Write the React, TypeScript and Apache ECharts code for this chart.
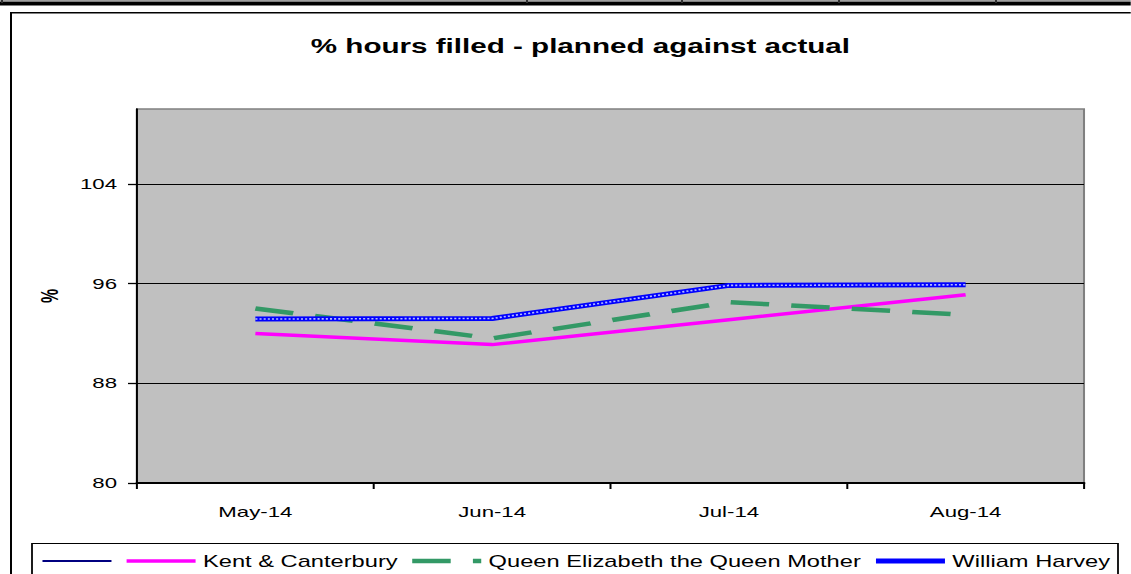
import React, { useEffect, useRef } from 'react';
import * as echarts from 'echarts';

// The reference text is horizontally stretched; the chart is drawn narrower and stretched with CSS.
const S = 1.48;
const W = 1131 / S;
const H = 574;
const FONT = "'Liberation Sans', Arial, sans-serif";

const categories = ['May-14', 'Jun-14', 'Jul-14', 'Aug-14'];
const blankValues: (number | null)[] = [null, null, null, null];
const kentValues = [92.0, 91.1, 93.1, 95.1];
const qeqmValues = [94.0, 91.6, 94.5, 93.5];
const harveyValues = [93.15, 93.2, 95.85, 95.9];
const yTickValues = [80, 88, 96, 104];
const seriesNames = [' ', 'Kent & Canterbury', 'Queen Elizabeth the Queen Mother', 'William Harvey'];
const titleText = '% hours filled - planned against actual';

const sx = (x: number) => x / S;

function buildOption(): any {
  const legendCommon = {
    top: 553,
    itemWidth: sx(69),
    itemHeight: 14,
    padding: 0,
    selectedMode: false,
    textStyle: { fontSize: 16, color: '#000', fontFamily: FONT },
    lineStyle: { width: 'inherit' },
    itemStyle: { opacity: 0, borderWidth: 0 },
  };
  const dividerXs = [2, 527, 682, 839, 996];
  return {
    animation: false,
    backgroundColor: '#ffffff',
    title: {
      text: titleText,
      left: 210,
      top: 36,
      padding: 0,
      textStyle: { fontSize: 20, fontWeight: 'bold', color: '#000', fontFamily: FONT },
    },
    legend: [
      { ...legendCommon, data: [seriesNames[0]], left: sx(41), itemGap: 0 },
      { ...legendCommon, data: seriesNames.slice(1), left: sx(124), itemGap: 7.5 },
    ],
    grid: {
      left: sx(137),
      right: W - sx(1084),
      top: 109,
      bottom: H - 483,
      show: true,
      backgroundColor: '#C0C0C0',
      borderColor: '#808080',
      borderWidth: 1.4,
      containLabel: false,
      outerBoundsMode: 'none',
    },
    xAxis: {
      type: 'category',
      data: categories,
      boundaryGap: true,
      axisLine: { show: true, lineStyle: { color: '#000', width: 2 } },
      axisTick: { show: true, inside: false, length: 6, lineStyle: { color: '#000', width: 1.35 } },
      axisLabel: { color: '#000', fontSize: 15, margin: 21, fontFamily: FONT },
      splitLine: { show: false },
    },
    yAxis: {
      type: 'value',
      min: 80,
      max: 110,
      interval: 8,
      name: '%',
      nameLocation: 'middle',
      nameGap: 51,
      nameRotate: 90,
      nameTextStyle: { fontSize: 16, fontWeight: 'bold', color: '#000', fontFamily: FONT },
      axisLine: { show: true, lineStyle: { color: '#000', width: 1.35 } },
      axisTick: { show: true, inside: false, length: 6.1, customValues: yTickValues, lineStyle: { color: '#000', width: 1.3 } },
      axisLabel: { customValues: yTickValues, color: '#000', fontSize: 15, margin: 13.5, fontFamily: FONT },
      splitLine: { show: true, lineStyle: { color: ['#000', '#000', '#000', '#000', '#808080'], width: 1.2 } },
    },
    series: [
      {
        name: seriesNames[0],
        type: 'line',
        data: blankValues,
        symbol: 'none',
        lineStyle: { color: '#000080', width: 2 },
        itemStyle: { color: '#000080' },
      },
      {
        name: seriesNames[1],
        type: 'line',
        data: kentValues,
        symbol: 'none',
        lineStyle: { color: '#FF00FF', width: 3.5 },
        itemStyle: { color: '#FF00FF' },
      },
      {
        name: seriesNames[2],
        type: 'line',
        data: qeqmValues,
        symbol: 'none',
        lineStyle: { color: '#339966', width: 4.5, type: [26, 15], cap: 'butt' },
        itemStyle: { color: '#339966' },
      },
      {
        name: seriesNames[3],
        type: 'line',
        data: harveyValues,
        symbol: 'none',
        lineStyle: { color: '#0000FF', width: 5 },
        itemStyle: { color: '#0000FF' },
      },
      {
        name: seriesNames[3],
        type: 'line',
        data: harveyValues,
        symbol: 'none',
        silent: true,
        lineStyle: { color: '#b4bcff', width: 1.6, type: [1.4, 1.4] },
        itemStyle: { color: '#0000FF' },
      },
    ],
    graphic: [
      { type: 'line', shape: { x1: 0, y1: 0.5, x2: W, y2: 0.5 }, style: { stroke: '#a0a0a0', lineWidth: 1 }, silent: true },
      { type: 'line', shape: { x1: 0, y1: 3.5, x2: W, y2: 3.5 }, style: { stroke: '#000', lineWidth: 4 }, silent: true },
      ...dividerXs.map((x) => ({
        type: 'line',
        shape: { x1: sx(x), y1: 0, x2: sx(x), y2: 3 },
        style: { stroke: '#303030', lineWidth: 1.35 },
        silent: true,
      })),
      { type: 'line', shape: { x1: sx(10), y1: 12.7, x2: W, y2: 12.7 }, style: { stroke: '#000', lineWidth: 1.6 }, silent: true },
      { type: 'line', shape: { x1: sx(11), y1: 12, x2: sx(11), y2: H }, style: { stroke: '#000', lineWidth: 1.35 }, silent: true },
      {
        type: 'rect',
        shape: { x: sx(32), y: 543.5, width: sx(1118 - 32), height: 40 },
        style: { fill: 'none', stroke: '#000', lineWidth: 1.2 },
        silent: true,
      },
    ],
  };
}

export default function App() {
  const ref = useRef<HTMLDivElement>(null);
  useEffect(() => {
    if (!ref.current) return;
    const chart = echarts.init(ref.current, undefined, { renderer: 'svg', width: W, height: H });
    chart.setOption(buildOption());
    return () => chart.dispose();
  }, []);
  return (
    <div style={{ position: 'absolute', left: 0, top: 0, width: 1131, height: 574, overflow: 'hidden', background: '#fff' }}>
      <div
        ref={ref}
        style={{ width: W, height: H, transform: `scaleX(${S})`, transformOrigin: '0 0' }}
      />
    </div>
  );
}
